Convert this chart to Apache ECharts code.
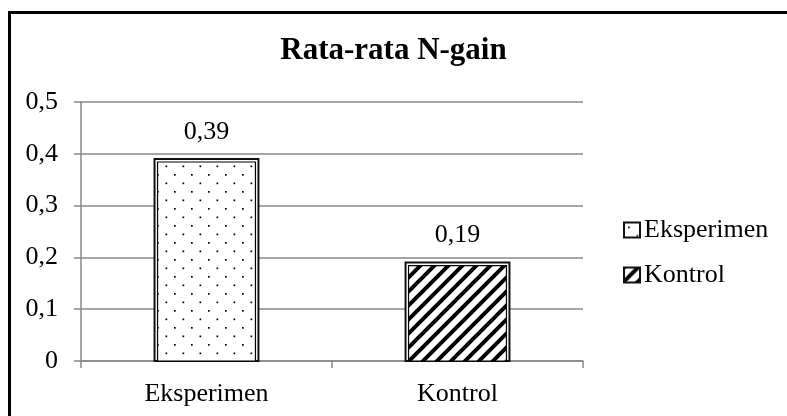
<!DOCTYPE html>
<html>
<head>
<meta charset="utf-8">
<script src="https://cdn.jsdelivr.net/npm/echarts@6/dist/echarts.min.js"></script>
<style>
html,body{margin:0;padding:0;background:#fff;}
#c{width:787px;height:416px;}
</style>
</head>
<body>
<div id="c"></div>
<script>
var categories = ['Eksperimen', 'Kontrol'];
var seriesNames = ['Eksperimen', 'Kontrol'];
var eksperimenValues = [0.39];
var kontrolValues = [0.19];
var yTicks = [0, 0.1, 0.2, 0.3, 0.4, 0.5];

function dotPattern() {
  var c = document.createElement('canvas');
  c.width = 17; c.height = 17;
  var g = c.getContext('2d');
  g.fillStyle = '#fff'; g.fillRect(0, 0, 17, 17);
  g.fillStyle = '#000';
  g.fillRect(4, 4, 1.7, 1.7);
  g.fillRect(12.5, 12.5, 1.7, 1.7);
  return { image: c, repeat: 'repeat' };
}
function hatchPattern() {
  var s = 14;
  var c = document.createElement('canvas');
  c.width = s; c.height = s;
  var g = c.getContext('2d');
  g.fillStyle = '#fff'; g.fillRect(0, 0, s, s);
  g.strokeStyle = '#000'; g.lineWidth = 4;
  g.beginPath();
  g.moveTo(-2, s + 2); g.lineTo(s + 2, -2);
  g.moveTo(-s / 2 - 2, s / 2 + 2); g.lineTo(s / 2 + 2, -s / 2 - 2);
  g.moveTo(s / 2 - 2, 1.5 * s + 2); g.lineTo(1.5 * s + 2, s / 2 - 2);
  g.stroke();
  return { image: c, repeat: 'repeat' };
}
var patterns = [dotPattern(), hatchPattern()];
var FONT = '"Liberation Serif", "Times New Roman", serif';

function fmt(v) { return String(v).replace('.', ','); }

function makeRender(pattern) {
  return function (params, api) {
    var x = api.value(0), y = api.value(1);
    var top = api.coord([x, y]);
    var base = api.coord([x, 0]);
    var w = api.size([1, 0])[0] * 0.414;
    var cx = top[0];
    var h = base[1] - top[1];
    return {
      type: 'group',
      children: [
        { type: 'rect', shape: { x: cx - w / 2, y: top[1], width: w, height: h },
          style: { fill: '#fff', stroke: '#111', lineWidth: 2 } },
        { type: 'rect', shape: { x: cx - w / 2 + 3, y: top[1] + 3, width: w - 6, height: h - 3 },
          style: { fill: pattern, stroke: '#000', lineWidth: 1.2 } },
        { type: 'text', x: cx, y: top[1] - 27,
          style: { text: fmt(y), font: '26px ' + FONT, fill: '#000', align: 'center', verticalAlign: 'middle' } }
      ]
    };
  };
}

var chart = echarts.init(document.getElementById('c'), null, { renderer: 'canvas' });
chart.setOption({
  animation: false,
  backgroundColor: '#fff',
  graphic: [{
    type: 'rect', silent: true, z: 100,
    shape: { x: 9.5, y: 12.5, width: 820, height: 420 },
    style: { fill: 'none', stroke: '#000', lineWidth: 3 }
  }],
  title: {
    text: 'Rata-rata N-gain', left: 'center', top: 30,
    textStyle: { fontFamily: FONT, fontWeight: 'bold', fontSize: 31, color: '#000' }
  },
  legend: {
    orient: 'vertical', left: 618, top: 212, itemGap: 19,
    itemWidth: 16, itemHeight: 15, icon: 'rect',
    data: seriesNames,
    itemStyle: { borderColor: '#111', borderWidth: 2 },
    textStyle: { fontFamily: FONT, fontSize: 26, color: '#000', padding: [0, 0, 0, -1] }
  },
  grid: { left: 81, top: 102, right: 204, bottom: 55, containLabel: false },
  xAxis: {
    type: 'category', data: categories,
    axisLine: { lineStyle: { color: '#888', width: 1.5 } },
    axisTick: { show: true, length: 7, lineStyle: { color: '#888', width: 1.5 } },
    axisLabel: { fontFamily: FONT, fontSize: 26, color: '#000', margin: 20 }
  },
  yAxis: {
    type: 'value', min: yTicks[0], max: yTicks[yTicks.length - 1], interval: 0.1,
    axisLine: { show: true, lineStyle: { color: '#888', width: 1.5 } },
    axisTick: { show: true, length: 7, lineStyle: { color: '#888', width: 1.5 } },
    splitLine: { lineStyle: { color: '#888', width: 1.5 } },
    axisLabel: { fontFamily: FONT, fontSize: 26, color: '#000', margin: 23,
      formatter: function (v) { return fmt(Math.round(v * 10) / 10); } }
  },
  series: [
    { name: seriesNames[0], type: 'custom', itemStyle: { color: patterns[0] },
      renderItem: makeRender(patterns[0]),
      data: eksperimenValues.map(function (v) { return [0, v]; }), z: 5 },
    { name: seriesNames[1], type: 'custom', itemStyle: { color: patterns[1] },
      renderItem: makeRender(patterns[1]),
      data: kontrolValues.map(function (v) { return [1, v]; }), z: 5 }
  ]
});
</script>
</body>
</html>
